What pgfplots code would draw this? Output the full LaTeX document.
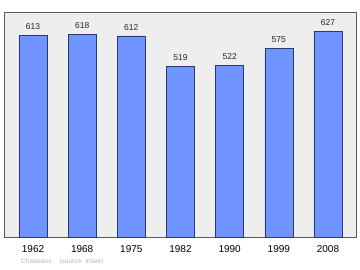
\documentclass[border=0pt]{standalone}
\usepackage{fontspec}
\setmainfont{Liberation Sans}
\usepackage{pgfplots}
\pgfplotsset{compat=1.18}
\definecolor{barfill}{HTML}{7094FF}
\definecolor{baredge}{HTML}{2A3A6A}
\definecolor{plotbg}{HTML}{EEEEEE}
\begin{document}
\begin{tikzpicture}[x=1bp,y=1bp]
\useasboundingbox[fill=white] (0,0) rectangle (360,270);
\begin{axis}[
  at={(4bp,33bp)}, anchor=south west,
  scale only axis, width=352bp, height=225bp,
  xmin=-0.59, xmax=6.57, ymin=0, ymax=685,
  axis background/.style={fill=plotbg},
  axis line style={draw=black!65, line width=0.9bp},
  ytick=\empty,
  xtick=data,
  xticklabels={1962,1968,1975,1982,1990,1999,2008},
  xtick style={draw=none},
  xticklabel style={font=\fontsize{10bp}{12bp}\selectfont, yshift=-5bp},
  nodes near coords,
  every node near coord/.append style={font=\fontsize{8.5bp}{10bp}\selectfont, yshift=2bp, text=black!85},
  /pgf/number format/assume math mode=true,
  clip=false,
]
\addplot[ybar, bar width=0.57, fill=barfill, draw=baredge, line width=0.6bp]
  coordinates {(0,613) (1,618) (2,612) (3,519) (4,522) (5,575) (6,627)};
\end{axis}
\node[anchor=west, text=black!30, font=\fontsize{6.5bp}{8bp}\selectfont, inner sep=0] at (21,8) {Chisseaux\hspace{8bp}(source: Insee)};
\end{tikzpicture}
\end{document}
